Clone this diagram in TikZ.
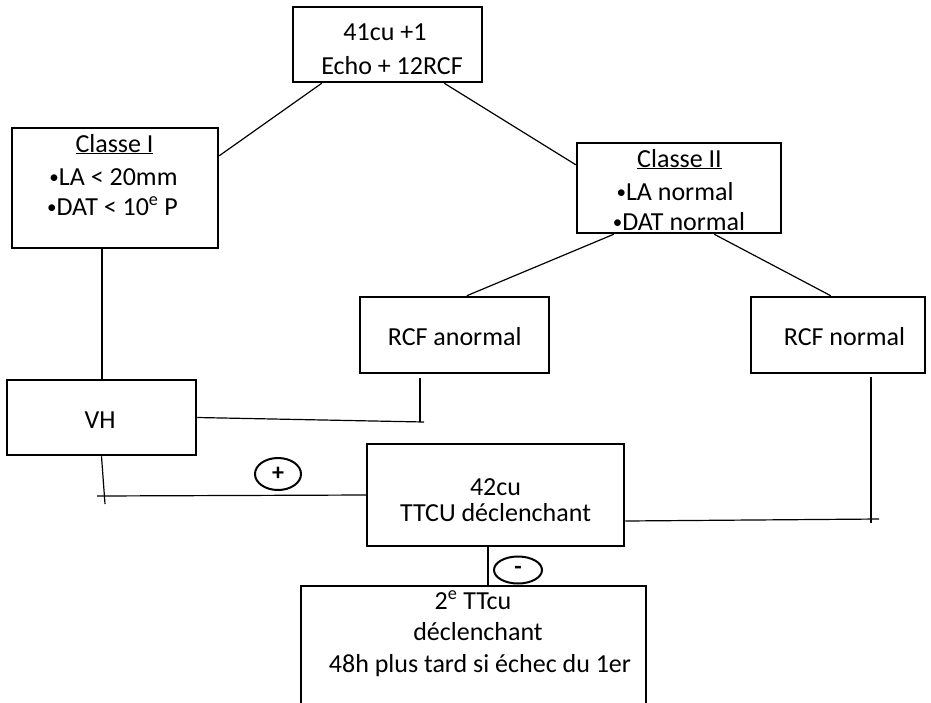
\documentclass[tikz,border=0pt]{standalone}
\usepackage{fontspec}
\setmainfont{Carlito}
\usetikzlibrary{shapes.geometric}
\newcommand\mybul{{\fontsize{19}{19}\selectfont\raisebox{1.5pt}{•}}}
\begin{document}
\begin{tikzpicture}[x=1pt,y=-1pt,
  box/.style={draw,line width=2.5pt,inner sep=0pt,rectangle},
  txt/.style={inner sep=0pt,anchor=base,font=\fontsize{26}{32}\selectfont},
  thinline/.style={line width=1.2pt},
  midline/.style={line width=2pt},
  thickline/.style={line width=2.8pt},
  sign/.style={draw,ellipse,line width=2pt,inner sep=0pt,font=\fontsize{24}{24}\selectfont\bfseries}]
\useasboundingbox (0,0) rectangle (931,702);
\clip (0,0) rectangle (931,702);
\fill[white] (0,0) rectangle (931,702);

% boxes
\node[box,minimum width=189pt,minimum height=75pt] (top) at (387.5,44.5) {};
\node[box,minimum width=206pt,minimum height=120pt] (c1) at (115,188) {};
\node[box,minimum width=204pt,minimum height=90pt] (c2) at (679,188) {};
\node[box,minimum width=189pt,minimum height=76pt] (ra) at (454.5,335) {};
\node[box,minimum width=174pt,minimum height=76pt] (rn) at (838,335) {};
\node[box,minimum width=189pt,minimum height=75pt] (vh) at (101.5,417.5) {};
\node[box,minimum width=257pt,minimum height=102pt] (tt) at (495.5,495) {};
\node[box,minimum width=345pt,minimum height=144pt] (bb) at (473.5,658) {};

% texts
\node[txt] (topa) at (385,40) {41cu +1};
\node[txt] (topb) at (392,74) {Echo + 12RCF};
\node[txt] (c1a) at (114.5,152) {\underline{Classe I}};
\node[txt] (c1b) at (113.5,185) {\mybul LA < 20mm};
\node[txt] (c1c) at (112.5,215) {\mybul DAT < 10\textsuperscript{e} P};
\node[txt] (c2a) at (679.5,167) {\underline{Classe II}};
\node[txt] (c2b) at (675,200) {\mybul LA normal};
\node[txt] (c2c) at (679,230) {\mybul DAT normal};
\node[txt] (raa) at (454.7,345) {RCF anormal};
\node[txt] (rna) at (844.5,345) {RCF normal};
\node[txt] (vha) at (100,428) {VH};
\node[txt] (tta) at (495.5,495) {42cu};
\node[txt] (ttb) at (495.5,521) {TTCU déclenchant};
\node[txt] (bba) at (473,609) {2\textsuperscript{e} TTcu};
\node[txt] (bbb) at (478,640) {déclenchant};
\node[txt] (bbc) at (480,672) {48h plus tard si échec du 1er};

% signs
\node[sign,minimum width=46pt,minimum height=32pt] (plus) at (278,474) {+};
\node[sign,minimum width=48pt,minimum height=27pt] (minus) at (518,570) {\raisebox{-4pt}{-}};

% connectors
\draw[thinline] ([xshift=30pt]top.south west) -- ([yshift=-29pt]c1.north east);
\draw[thinline] ([xshift=-39pt]top.south east) -- ([yshift=-23pt]c2.north west);
\draw[thinline] ([xshift=38pt]c2.south west) -- ([xshift=108pt]ra.north west);
\draw[thinline] ([xshift=-68pt]c2.south east) -- ([xshift=81pt]rn.north west);
\draw[midline] (vh.north |- c1.south) -- (vh.north);
\coordinate (j1) at (420,422);
\draw[midline] ([yshift=-4pt]ra.south -| j1) -- (j1);
\draw[thinline] (vh.east) -- ([xshift=4pt]j1);
\coordinate (j2) at (105,504);
\draw[thinline] (vh.south) -- (j2);
\coordinate (j2b) at (97,496);
\draw[thinline] (j2b) -- (tt.west);
\coordinate (j3) at (879,519);
\draw[thinline] ([yshift=-26pt]tt.east) -- (j3);
\coordinate (j4) at (871,523);
\draw[thickline] ([yshift=-3pt]rn.south -| j4) -- (j4);
\draw[midline] ([xshift=-7.5pt]tt.south) -- ([xshift=-7.5pt]tt.south |- bb.north);
\end{tikzpicture}
\end{document}
